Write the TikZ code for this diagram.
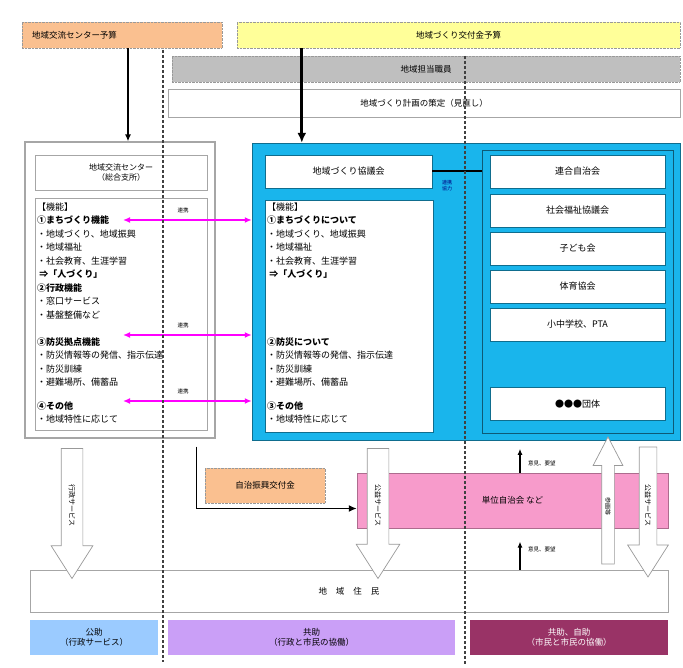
\documentclass[tikz,border=0pt]{standalone}
\usepackage{fontspec}
\setmainfont{Noto Sans CJK JP}
\usetikzlibrary{arrows.meta,shapes.arrows}

\definecolor{budgetorange}{HTML}{FAC090}
\definecolor{budgetyellow}{HTML}{FFFF99}
\definecolor{staffgray}{HTML}{BFBFBF}
\definecolor{councilcyan}{HTML}{19B5EC}
\definecolor{unitpink}{HTML}{F79BCB}
\definecolor{linkmagenta}{HTML}{FF00FF}
\definecolor{kojoblue}{HTML}{9BCBFF}
\definecolor{kyojopurple}{HTML}{CA9FF7}
\definecolor{jijomaroon}{HTML}{993366}

\tikzset{
  budgetbox/.style={draw=gray!80, densely dotted, inner sep=0pt, minimum height=26pt, font=\fontsize{8.5}{10}\selectfont},
  plainbox/.style={draw=gray!70, fill=white, line width=0.8pt, inner sep=0pt, align=center, font=\fontsize{8.5}{11}\selectfont},
  orgbox/.style={plainbox, draw=councilcyan!60!black, minimum width=175pt, minimum height=33pt, font=\fontsize{9}{11}\selectfont},
  funclines/.style={anchor=north west, align=left, inner sep=0pt, font=\fontsize{9}{13.5}\selectfont},
  linkarrow/.style={{Latex[length=7pt,width=6pt]}-{Latex[length=7pt,width=6pt]}, linkmagenta, line width=1.6pt},
  smalllabel/.style={inner sep=0pt, font=\fontsize{5.5}{6.5}\selectfont},
  hollowarrow/.style={single arrow, draw=gray!80, fill=white, line width=0.7pt, rotate=-90,
    single arrow tip angle=65, inner xsep=2pt, text height=5.3pt, text depth=0pt, font=\fontsize{7}{7}\selectfont},
  zonebox/.style={inner sep=0pt, minimum height=35pt, align=center, font=\fontsize{8.5}{10.5}\selectfont},
  zoneline/.style={gray!50!black, line width=1.1pt, dash pattern=on 3pt off 2pt},
}

\begin{document}
\begin{tikzpicture}[x=1pt,y=-1pt]
\useasboundingbox (0,0) rectangle (683,668);

% budgets, staff, plan
\node[budgetbox, fill=budgetorange, minimum width=200pt, text width=180pt, align=left] (budC) at (122,35) {地域交流センター予算};
\node[budgetbox, fill=budgetyellow, minimum width=443pt] (budY) at (458.5,35) {地域づくり交付金予算};
\node[budgetbox, fill=staffgray, minimum width=508pt] (staff) at (426,69) {地域担当職員};
\node[plainbox, minimum width=512pt, minimum height=28pt] (plan) at (424,103) {地域づくり計画の策定（見直し）};

% community centre
\node[plainbox, minimum width=190pt, minimum height=296pt, line width=1.2pt] (hub) at (120,290) {};
\node[plainbox, minimum width=172pt, minimum height=35pt, font=\fontsize{8}{10}\selectfont] (hubTitle) at (121,172.5) {地域交流センター\\（総合支所）};
\node[plainbox, minimum width=172pt, minimum height=232pt] (hubFunc) at (121,314) {};
\node[funclines] (hubA) at (37,202.5) {【機能】\\\textbf{①まちづくり機能}\\・地域づくり、地域振興\\・地域福祉\\・社会教育、生涯学習\\\textbf{\ ⇒「人づくり」}\\\textbf{②行政機能}\\・窓口サービス\\・基盤整備など};
\node[funclines] (hubB) at (37,337.5) {\textbf{③防災拠点機能}\\・防災情報等の発信、指示伝達\\・防災訓練\\・避難場所、備蓄品};
\node[funclines] (hubC) at (37,401.5) {\textbf{④その他}\\・地域特性に応じて};

% council
\node[draw=councilcyan!60!black, fill=councilcyan, minimum width=428pt, minimum height=297pt, inner sep=0pt] (council) at (466,291.5) {};
\node[plainbox, draw=councilcyan!60!black, minimum width=167pt, minimum height=33pt, font=\fontsize{9}{11}\selectfont] (councilTitle) at (348.5,171.5) {地域づくり協議会};
\node[plainbox, draw=councilcyan!60!black, minimum width=168pt, minimum height=232pt] (councilFunc) at (349,316) {};
\node[funclines] (councilA) at (267,202.5) {【機能】\\\textbf{①まちづくりについて}\\・地域づくり、地域振興\\・地域福祉\\・社会教育、生涯学習\\\textbf{\ ⇒「人づくり」}};
\node[funclines] (councilB) at (267,337.5) {\textbf{②防災について}\\・防災情報等の発信、指示伝達\\・防災訓練\\・避難場所、備蓄品};
\node[funclines] (councilC) at (267,401.5) {\textbf{③その他}\\・地域特性に応じて};
\node[draw=councilcyan!50!black, minimum width=191pt, minimum height=283pt, inner sep=0pt] (orgCol) at (577.5,291.5) {};
\foreach \y/\org [count=\i] in {171.5/連合自治会, 210.5/社会福祉協議会, 248.5/子ども会, 286.5/体育協会, 324.5/小中学校、PTA, 404/●●●団体}
  \node[orgbox] (org\i) at (577.5,\y) {\org};
\draw[line width=2pt] (councilTitle.east) -- (orgCol.west |- councilTitle.east);
\node[smalllabel, align=center, text=blue!50!black, font=\fontsize{5}{6}\selectfont] (coopLabel) at (447,186) {連携\\協力};

% links between centre and council
\foreach \y [count=\i] in {220,335,401} {
  \coordinate (linkStart\i) at (123,\y);
  \draw[linkarrow] (linkStart\i) -- (council.west |- linkStart\i);
  \node[smalllabel] (linkLabel\i) at (183,\y-10) {連携};
}

% lower part
\node[budgetbox, fill=budgetorange, minimum width=120pt, minimum height=35pt] (subsidy) at (265,485.5) {自治振興交付金};
\node[draw=unitpink!70!black, fill=unitpink, minimum width=311pt, minimum height=55pt, inner sep=0pt, font=\fontsize{8.5}{10}\selectfont] (unit) at (512.5,500.5) {単位自治会 など};
\node[plainbox, minimum width=638pt, minimum height=42pt] (residents) at (349,591) {地\hspace{9pt}域\hspace{9pt}住\hspace{9pt}民};

\node[hollowarrow, minimum height=130pt, inner ysep=7.85pt, single arrow head extend=10pt] (adminFlow) at (72,505) {行政サービス};
\node[hollowarrow, minimum height=130pt, inner ysep=7.85pt, single arrow head extend=11pt] (publicFlowC) at (378,505) {公益サービス};
\node[hollowarrow, minimum height=130pt, inner ysep=5.85pt, single arrow head extend=11.5pt] (publicFlowR) at (648,505) {公益サービス};
\node[hollowarrow, shape border rotate=180, minimum height=127pt, inner ysep=3.7pt, text height=4.6pt, single arrow head extend=8.5pt,
  single arrow tip angle=55, font=\fontsize{6}{6}\selectfont] (joinFlow) at (608,506.5) {参画等};

\draw[-{Latex[length=6pt,width=5pt]}, line width=1.2pt] ([xshift=7.5pt]unit.north) -- ++(0,-24);
\draw[-{Latex[length=6pt,width=5pt]}, line width=1.2pt] ([xshift=7.5pt]unit.north |- residents.north) -- ++(0,-28);
\node[smalllabel, anchor=west] (voiceTop) at (528,463) {意見、要望};
\node[smalllabel, anchor=west] (voiceLow) at (528,549) {意見、要望};

\draw[-{Latex[length=8pt,width=7pt]}, line width=1.6pt] ([xshift=-19pt,yshift=-8pt]hub.south east) |- ([yshift=-8pt]unit.west);

% budget flows
\draw[-{Latex[length=7pt,width=6pt]}, line width=1.5pt] ([xshift=6pt]budC.south) -- ([xshift=6pt]budC.south |- hub.north);
\draw[-{Latex[length=10pt,width=9pt]}, line width=3pt] ([xshift=65pt]budY.south west) -- ([xshift=65pt]budY.south west |- council.north);

% zones
\draw[zoneline] (163,50) -- (163,662);
\draw[zoneline] (465,56) -- (465,665);
\node[zonebox, fill=kojoblue, minimum width=128pt] (kojo) at (94,637.5) {公助\\（行政サービス）};
\node[zonebox, fill=kyojopurple, minimum width=287pt] (kyojo) at (311.5,637.5) {共助\\（行政と市民の協働）};
\node[zonebox, fill=jijomaroon, text=white, minimum width=198pt] (jijo) at (569,637.5) {共助、自助\\（市民と市民の協働）};
\end{tikzpicture}
\end{document}
